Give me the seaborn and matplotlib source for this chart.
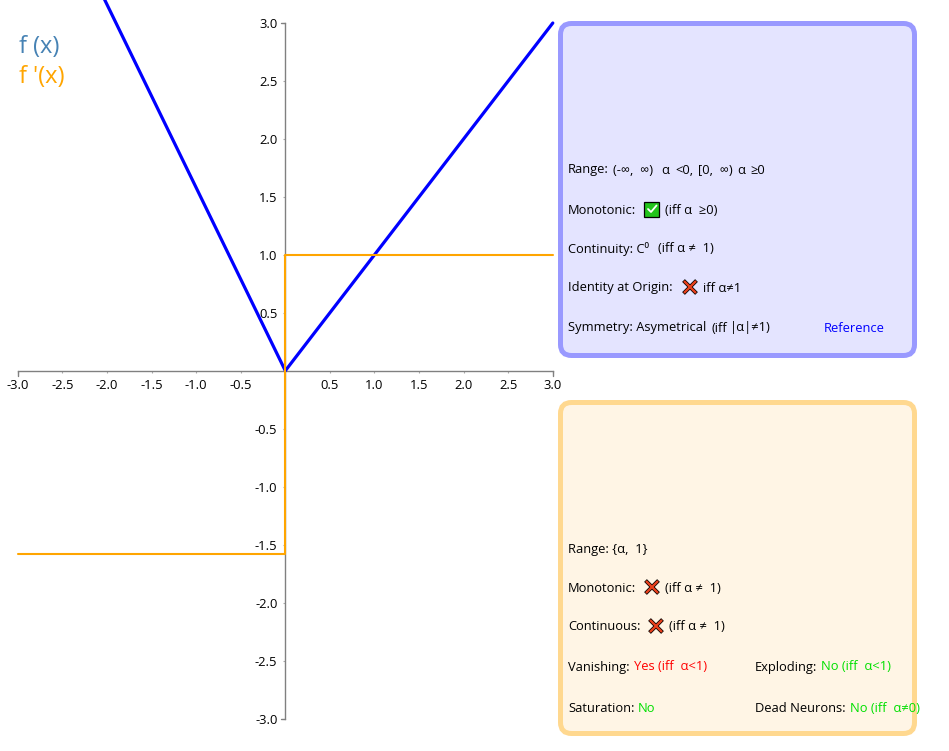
import seaborn as sns
import matplotlib.pyplot as plt
import pandas as pd
from matplotlib.patches import FancyBboxPatch, Rectangle

# ------------------------
# Data
# ------------------------
F_X = [-3.0, 0.0, 3.0]
F_Y = [4.74, 0.0, 3.0]
DF_X = [-3.0, 0.0, 0.0, 3.0]
DF_Y = [-1.58, -1.58, 1.0, 1.0]
TICKS = [-3.0, -2.5, -2.0, -1.5, -1.0, -0.5, 0.5, 1.0, 1.5, 2.0, 2.5, 3.0]
TICK_LABELS = ['-3.0', '-2.5', '-2.0', '-1.5', '-1.0', '-0.5', '0.5', '1.0', '1.5', '2.0', '2.5', '3.0']
LEGEND_LABELS = ['f (x)', "f '(x)"]

BLACK = 'black'
RED = '#ff0000'
GREEN = '#00e000'
BLUE = '#0000ff'

# text, x px, y px, colour
TEXTS = [
    ('Range:', 568, 170, BLACK),
    ('(-∞,  ∞)', 613, 170, BLACK),
    ('α', 661, 170, BLACK),
    ('<0,', 675, 170, BLACK),
    ('[0,  ∞)', 698, 170, BLACK),
    ('α', 737, 170, BLACK),
    ('≥0', 750, 170, BLACK),
    ('Monotonic:', 568, 210, BLACK),
    ('(iff α  ≥0)', 665, 210, BLACK),
    ('Continuity: C⁰', 568, 249, BLACK),
    ('(iff α ≠  1)', 658, 249, BLACK),
    ('Identity at Origin:', 568, 288, BLACK),
    ('iff α≠1', 703, 288, BLACK),
    ('Symmetry: Asymetrical', 568, 328, BLACK),
    ('(iff', 712, 328, BLACK),
    ('|α|≠1)', 730, 328, BLACK),
    ('Reference', 824, 328, BLUE),
    ('Range: {α,  1}', 568, 549, BLACK),
    ('Monotonic:', 568, 588, BLACK),
    ('(iff α ≠  1)', 665, 588, BLACK),
    ('Continuous:', 568, 627, BLACK),
    ('(iff α ≠  1)', 669, 627, BLACK),
    ('Vanishing:', 568, 667, BLACK),
    ('Yes (iff  α<1)', 634, 667, RED),
    ('Exploding:', 755, 667, BLACK),
    ('No (iff  α<1)', 821, 667, GREEN),
    ('Saturation:', 568, 709, BLACK),
    ('No', 638, 709, GREEN),
    ('Dead Neurons:', 755, 709, BLACK),
    ('No (iff  α≠0)', 850, 709, GREEN),
]
CROSSES = [(690, 287), (652, 587), (656, 626)]
CHECKS = [(652, 209)]

# ------------------------
# Plotting
# ------------------------
sns.set_style('white')
plt.rcParams['font.family'] = ['Open Sans', 'DejaVu Sans']

W, H = 949, 751
fig = plt.figure(figsize=(W / 100, H / 100), dpi=100)

# pixel overlay for the info boxes
bg = fig.add_axes([0, 0, 1, 1], zorder=0)
bg.set_xlim(0, W)
bg.set_ylim(H, 0)
bg.axis('off')

bg.add_patch(FancyBboxPatch((560.5, 23.5), 354, 332, boxstyle='round,pad=0,rounding_size=11',
                            fc='#e4e4ff', ec='#9999ff', lw=3.6))
bg.add_patch(FancyBboxPatch((560.5, 402.5), 354, 331, boxstyle='round,pad=0,rounding_size=11',
                            fc='#fff5e5', ec='#ffd88f', lw=3.6))

for txt, x, y, col in TEXTS:
    bg.text(x, y, txt, color=col, fontsize=9.25, va='center', ha='left', zorder=5)

for x, y in CROSSES:
    for dx in (-1, 1):
        bg.plot([x - 6.5, x + 6.5], [y - 6.5 * dx, y + 6.5 * dx], color='black', lw=2.8, solid_capstyle='butt', zorder=6)
    for dx in (-1, 1):
        bg.plot([x - 6, x + 6], [y - 6 * dx, y + 6 * dx], color='#e8401c', lw=1.7, solid_capstyle='butt', zorder=7)

for x, y in CHECKS:
    bg.add_patch(Rectangle((x - 7.5, y - 7.5), 15, 15, fc='#22c41c', ec='black', lw=0.9, zorder=6))
    bg.plot([x - 4, x - 1, x + 4.5], [y, y + 3, y - 3.5], color='white', lw=1.3, zorder=7)

# main axes: -3..3 maps to 17.8..552.8 px and 718.5..23 px
ax = fig.add_axes([17.8 / W, 1 - 718.5 / H, 535 / W, 695.5 / H], zorder=1)
ax.patch.set_alpha(0)
f_df = pd.DataFrame({'x': F_X, 'y': F_Y})
df_df = pd.DataFrame({'x': DF_X, 'y': DF_Y})
sns.lineplot(data=f_df, x='x', y='y', color='#0000ff', lw=2.3, sort=False, estimator=None,
             ax=ax, clip_on=False, zorder=3)
sns.lineplot(data=df_df, x='x', y='y', color='orange', lw=1.5, sort=False, estimator=None,
             ax=ax, clip_on=False, zorder=4)

ax.set_xlim(-3, 3)
ax.set_ylim(-3, 3)
ax.set_xlabel('')
ax.set_ylabel('')
for side in ('top', 'right'):
    ax.spines[side].set_visible(False)
for side in ('left', 'bottom'):
    ax.spines[side].set_position(('data', 0))
    ax.spines[side].set_color('#808080')
    ax.spines[side].set_linewidth(1)
ax.set_xticks(TICKS, TICK_LABELS)
ax.set_yticks(TICKS, TICK_LABELS)
ax.tick_params(axis='both', which='major', length=1.2, width=0.8, color='#aaaaaa',
               labelsize=9.4, labelcolor='black', left=True, bottom=True)
ax.tick_params(axis='x', pad=4.5)
ax.tick_params(axis='y', pad=4.5)

# end ticks of both axes
for y in (3, -3):
    ax.plot([-0.053, 0], [y, y], color='#808080', lw=1, clip_on=False)
for x in (3, -3):
    ax.plot([x, x], [0, -0.045], color='#808080', lw=1, clip_on=False)

for lab, y, col in zip(LEGEND_LABELS, (47, 77), ('steelblue', 'orange')):
    bg.text(19, y, lab, color=col, fontsize=17, va='center', ha='left')

fig.savefig('out.png', dpi=100)
